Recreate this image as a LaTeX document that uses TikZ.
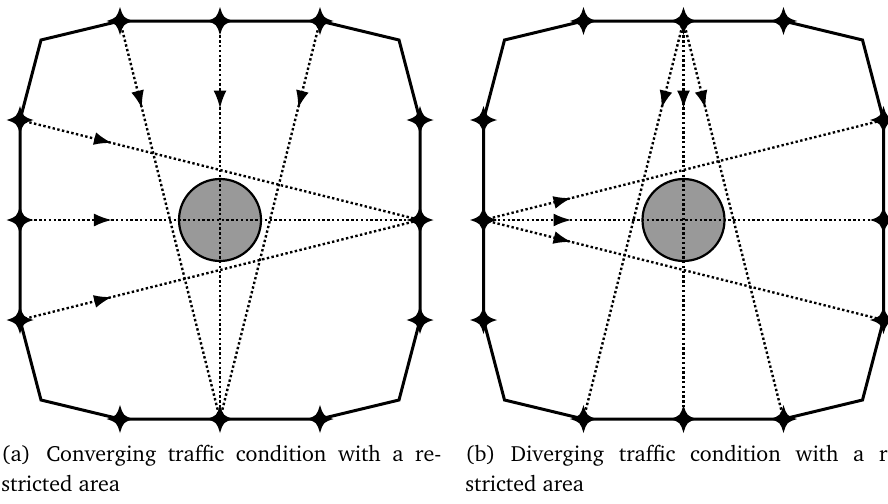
\documentclass[tikz,border=0pt]{standalone}
\usepackage[T1]{fontenc}
\usepackage{charter}
\usetikzlibrary{arrows.meta,decorations.markings}

\tikzset{
  outline/.style={line width=1.5pt, line join=miter},
  flowline/.style={line width=1.2pt, dash pattern=on 1.2pt off 1.2pt},
  flowarrow/.style={postaction={decorate}, decoration={markings,
      mark=at position #1 with {\arrow{Latex[length=9pt,width=6.5pt]}}}},
  zone/.style={draw, line width=1.1pt, fill=black!40, circle, minimum size=41pt, inner sep=0pt},
  caption/.style={inner sep=0pt, anchor=base west, font=\fontsize{11}{15}\selectfont},
  starpt/.pic={\fill (13.5,0) .. controls (3.3,3.3) .. (0,14) .. controls (-3.3,3.3) .. (-13.5,0)
      .. controls (-3.3,-3.3) .. (0,-14) .. controls (3.3,-3.3) .. cycle;}
}

\newcommand\panelcoords[3]{%
  \coordinate (#1-c) at (#2,#3);
  \coordinate (#1-t1) at ({#2-100},{#3-199});
  \coordinate (#1-t2) at ({#2},{#3-199});
  \coordinate (#1-t3) at ({#2+100},{#3-199});
  \coordinate (#1-b1) at ({#2-100},{#3+199});
  \coordinate (#1-b2) at ({#2},{#3+199});
  \coordinate (#1-b3) at ({#2+100},{#3+199});
  \coordinate (#1-l1) at ({#2-200},{#3-100});
  \coordinate (#1-l2) at ({#2-200},{#3});
  \coordinate (#1-l3) at ({#2-200},{#3+100});
  \coordinate (#1-r1) at ({#2+200},{#3-100});
  \coordinate (#1-r2) at ({#2+200},{#3});
  \coordinate (#1-r3) at ({#2+200},{#3+100});
  \coordinate (#1-nw) at ({#2-179},{#3-180});
  \coordinate (#1-ne) at ({#2+179},{#3-180});
  \coordinate (#1-sw) at ({#2-179},{#3+180});
  \coordinate (#1-se) at ({#2+179},{#3+180});
}

\begin{document}
\begin{tikzpicture}[x=0.5pt,y=-0.5pt]
\useasboundingbox (0,0) rectangle (888,503);
\clip (0,0) rectangle (888,503);
\panelcoords{L}{220}{220}
\panelcoords{R}{683.5}{220}

\foreach \p in {L,R}{
  \draw[outline] (\p-t1) -- (\p-t2) -- (\p-t3) -- (\p-ne) -- (\p-r1) -- (\p-r2) -- (\p-r3)
     -- (\p-se) -- (\p-b3) -- (\p-b2) -- (\p-b1) -- (\p-sw) -- (\p-l3) -- (\p-l2) -- (\p-l1)
     -- (\p-nw) -- cycle;
  \node[zone] (\p-zone) at (\p-c) {};
}

% converging
\foreach \s in {t1,t2,t3}{\draw[flowline, flowarrow=0.22] (L-\s) -- (L-b2);}
\foreach \s in {l1,l2,l3}{\draw[flowline, flowarrow=0.23] (L-\s) -- (L-r2);}
% diverging
\foreach \s in {b1,b2,b3}{\draw[flowline, flowarrow=0.22] (R-t2) -- (R-\s);}
\foreach \s in {r1,r2,r3}{\draw[flowline, flowarrow=0.22] (R-l2) -- (R-\s);}

\foreach \p in {L,R}{
  \foreach \s in {t1,t2,t3,b1,b2,b3,l1,l2,l3,r1,r2,r3}{\pic at (\p-\s) {starpt};}
}

\node[caption] (capa1) at (1,461) {\makebox[220pt][s]{(a)\hspace{0.7em}Converging traffic condition with a re-}};
\node[caption] (capa2) at (1,491) {stricted area};
\node[caption] (capb1) at (465,461) {\makebox[220pt][s]{(b)\hspace{0.7em}Diverging traffic condition with a re-}};
\node[caption] (capb2) at (465,491) {stricted area};
\end{tikzpicture}
\end{document}
